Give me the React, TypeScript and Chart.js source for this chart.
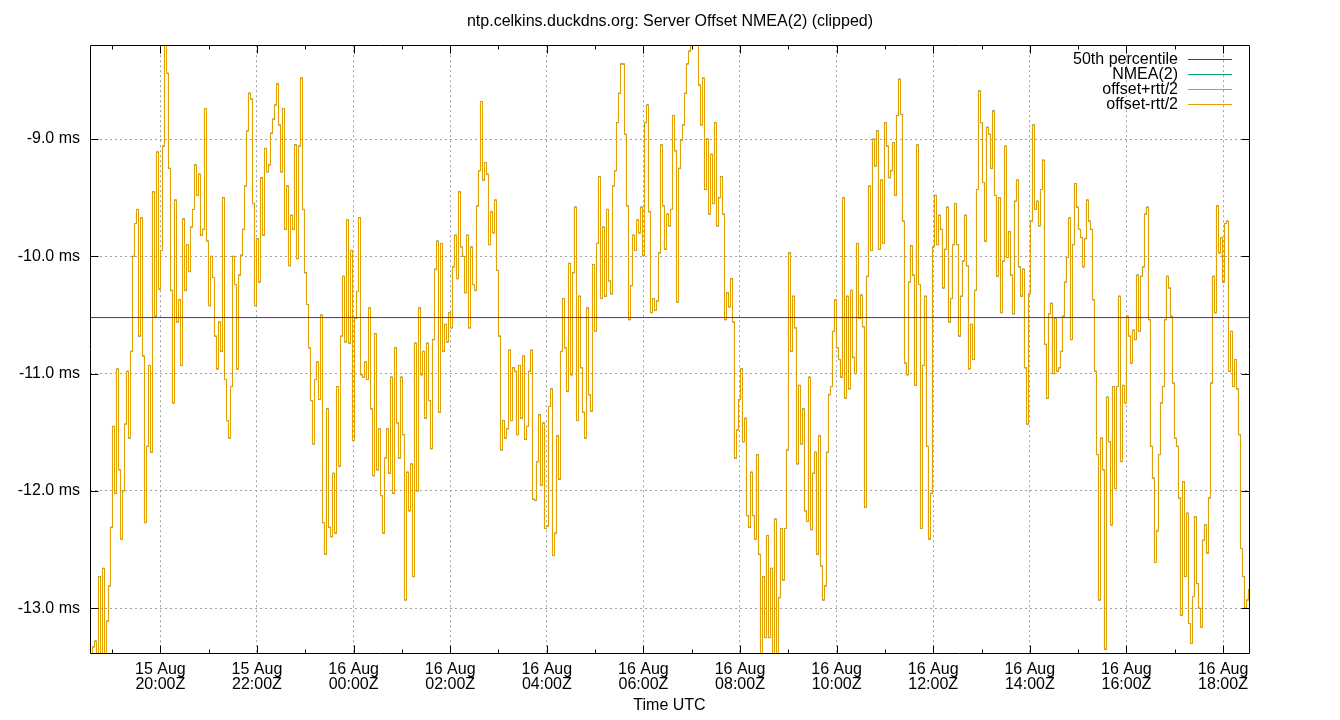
import React, { useEffect, useRef } from 'react';
import { Chart, registerables } from 'chart.js';

Chart.register(...registerables);

const FONT = '"Liberation Sans", Arial, sans-serif';

const chartTitle = 'ntp.celkins.duckdns.org: Server Offset NMEA(2) (clipped)';
const xAxisTitle = 'Time UTC';
const seriesLabels = ['50th percentile', 'NMEA(2)', 'offset+rtt/2', 'offset-rtt/2'];
const seriesColors = ['#9400d3', '#009e73', '#56b4e9', '#e69f00'];
const dayLabels = ['15 Aug', '16 Aug'];

// x is hours since 15 Aug 00:00Z
const xRange = [18.543, 42.538];
const yRange = [-13.39, -8.2];

const firstSampleHour = 18.574;
const sampleStepSec = 149.06;
const percentile50 = -10.522;

// offset in ms, one reading every sampleStepSec (refclock: rtt is 0, so offset+-rtt/2 == offset)
const offsetMs = [
  -13.45, -13.33, -13.28, -13.45, -12.73, -13.45, -12.66, -13.45, -13.11, -12.81,
  -12.31, -11.45, -12.02, -10.96, -11.82, -12.41, -12.00, -11.43, -10.98, -11.55,
  -10.81, -10.00, -9.72, -9.60, -10.68, -9.67, -10.85, -12.27, -11.62, -10.93,
  -11.67, -9.45, -10.51, -9.11, -10.28, -9.95, -9.06, -8.15, -8.44, -9.25,
  -10.29, -11.25, -9.52, -10.56, -10.37, -10.93, -9.68, -10.29, -9.90, -10.13,
  -9.75, -9.60, -9.22, -9.48, -9.30, -9.82, -9.77, -8.74, -9.87, -10.42,
  -10.00, -10.18, -10.68, -10.96, -10.56, -10.81, -9.50, -11.05, -11.40, -11.55,
  -11.11, -10.00, -10.24, -10.96, -10.16, -9.99, -9.77, -9.40, -8.93, -8.61,
  -8.66, -9.55, -10.42, -9.85, -10.22, -9.33, -9.82, -9.08, -9.28, -9.22,
  -8.95, -8.83, -8.71, -8.53, -8.88, -9.28, -8.74, -9.77, -9.40, -10.08,
  -9.65, -9.77, -9.05, -10.02, -9.06, -8.48, -9.60, -10.14, -10.41, -10.78,
  -11.23, -11.60, -11.05, -10.90, -11.22, -10.50, -12.27, -12.54, -11.30, -12.31,
  -12.39, -11.85, -12.36, -11.11, -11.79, -10.68, -10.17, -10.73, -9.69, -10.74,
  -9.95, -11.57, -10.53, -10.30, -9.67, -11.01, -11.03, -10.90, -11.05, -10.44,
  -11.30, -11.87, -10.66, -11.82, -11.47, -12.04, -12.36, -11.72, -11.47, -11.85,
  -11.03, -12.02, -10.78, -11.42, -11.72, -11.03, -11.52, -12.93, -11.84, -12.17,
  -11.77, -12.73, -10.74, -12.00, -10.44, -11.01, -10.81, -11.38, -10.74, -11.23,
  -11.64, -10.71, -10.11, -9.87, -11.33, -9.89, -10.81, -10.58, -10.73, -10.48,
  -10.61, -10.09, -9.82, -10.19, -9.45, -9.92, -10.00, -10.31, -9.82, -10.61,
  -9.92, -10.24, -10.29, -9.57, -9.27, -8.68, -9.35, -9.20, -9.30, -9.90,
  -9.62, -9.80, -9.52, -10.12, -10.68, -11.65, -11.40, -11.55, -11.47, -10.80,
  -11.40, -10.95, -10.98, -11.52, -10.93, -11.38, -10.85, -11.56, -11.45, -10.98,
  -10.80, -12.07, -12.08, -11.75, -11.35, -11.95, -11.42, -12.32, -12.30, -11.28,
  -11.13, -12.55, -12.36, -11.53, -11.90, -10.81, -10.36, -10.78, -11.15, -10.06,
  -11.01, -10.14, -9.58, -11.40, -10.34, -10.95, -11.33, -11.55, -10.44, -11.18,
  -11.32, -10.07, -10.64, -9.89, -9.32, -10.36, -9.75, -10.34, -9.60, -10.21,
  -10.32, -9.40, -9.27, -8.86, -8.61, -8.36, -8.36, -8.96, -9.57, -10.54,
  -10.25, -9.82, -9.95, -9.69, -9.80, -9.58, -9.99, -8.86, -8.71, -9.62,
  -10.48, -10.36, -10.46, -10.38, -9.97, -9.05, -9.57, -9.94, -9.64, -9.74,
  -9.60, -8.80, -9.10, -10.39, -9.25, -9.01, -8.88, -8.61, -8.36, -8.25,
  -8.10, -8.05, -8.10, -8.15, -8.54, -8.88, -8.48, -9.43, -9.00, -9.64,
  -9.13, -9.55, -8.86, -9.74, -9.50, -9.32, -9.64, -10.54, -10.31, -10.43,
  -10.19, -10.56, -11.72, -11.48, -11.22, -10.96, -11.58, -11.38, -12.21, -12.31,
  -11.84, -12.21, -12.41, -11.69, -12.54, -13.45, -12.73, -13.25, -12.38, -13.25,
  -12.66, -13.45, -12.24, -13.45, -12.91, -12.32, -12.76, -12.32, -11.65, -9.97,
  -10.81, -10.34, -10.61, -11.77, -11.10, -11.60, -11.30, -12.17, -12.26, -11.03,
  -12.33, -11.85, -11.67, -12.54, -11.53, -12.64, -12.93, -12.81, -11.67, -11.18,
  -11.11, -10.64, -10.37, -10.78, -10.88, -11.03, -9.50, -11.21, -10.34, -11.13,
  -10.29, -10.86, -11.00, -9.89, -10.53, -10.33, -10.60, -12.14, -10.17, -9.40,
  -9.95, -9.00, -9.23, -8.93, -9.94, -9.35, -9.89, -8.86, -9.06, -9.33,
  -9.27, -9.03, -9.48, -8.80, -8.49, -8.79, -9.70, -10.91, -11.01, -10.22,
  -9.91, -10.16, -11.10, -9.05, -10.24, -12.32, -10.93, -10.34, -11.62, -12.41,
  -12.02, -9.92, -9.48, -9.90, -9.65, -9.77, -10.27, -9.94, -9.58, -10.56,
  -10.36, -9.90, -9.55, -9.90, -10.68, -10.34, -10.04, -9.65, -10.08, -10.96,
  -10.58, -10.88, -10.29, -9.43, -8.59, -8.86, -9.37, -9.87, -8.90, -8.96,
  -9.25, -8.76, -9.48, -10.17, -9.50, -10.48, -10.04, -9.06, -10.01, -9.79,
  -10.16, -10.49, -9.53, -9.35, -10.09, -10.34, -10.11, -10.95, -11.43, -10.32,
  -9.70, -8.88, -9.60, -9.53, -9.74, -9.43, -9.18, -10.75, -11.21, -10.49,
  -10.40, -11.00, -10.53, -10.98, -10.95, -10.81, -10.51, -10.22, -10.01, -9.67,
  -10.71, -9.90, -9.38, -9.58, -9.77, -9.84, -10.09, -9.85, -9.52, -9.70,
  -9.77, -10.37, -10.98, -11.69, -12.93, -11.55, -11.82, -13.35, -11.20, -11.58,
  -12.29, -11.11, -11.98, -11.11, -10.34, -11.75, -11.10, -11.25, -10.51, -10.68,
  -10.91, -10.63, -10.71, -10.16, -10.64, -10.17, -10.09, -9.64, -9.58, -10.54,
  -11.62, -11.89, -12.61, -12.34, -11.69, -11.25, -11.11, -10.54, -10.17, -10.27,
  -10.51, -11.08, -11.55, -11.62, -12.06, -13.06, -11.92, -12.73, -12.19, -13.13,
  -13.30, -12.90, -12.22, -12.79, -13.00, -13.16, -12.42, -12.29, -12.53, -12.06,
  -11.08, -10.17, -10.48, -9.57, -9.97, -9.84, -10.22, -9.72, -9.70, -10.98,
  -10.64, -11.11, -10.88, -11.13, -11.52, -12.49, -12.73, -13.00, -12.93, -12.84,
];

// gnuplot look: full border, inward tics on all four sides, key in the top right corner
const gnuplotFrame = {
  id: 'gnuplotFrame',
  afterDraw(chart: any) {
    const { ctx, chartArea: a, scales } = chart;
    const L = Math.round(a.left) + 0.5;
    const R = Math.round(a.right) + 0.5;
    const T = Math.round(a.top) + 0.5;
    const B = Math.round(a.bottom) - 0.5;
    ctx.save();
    ctx.strokeStyle = '#000';
    ctx.lineWidth = 1;
    ctx.beginPath();
    ctx.rect(L, T, R - L, B - T);
    scales.x.ticks.forEach((t: any) => {
      const px = Math.round(scales.x.getPixelForValue(t.value)) + 0.5;
      const len = t.value % 2 === 0 ? 8 : 4;
      ctx.moveTo(px, B);
      ctx.lineTo(px, B - len);
      ctx.moveTo(px, T);
      ctx.lineTo(px, T + len);
    });
    scales.y.ticks.forEach((t: any) => {
      const py = Math.round(scales.y.getPixelForValue(t.value)) + 0.5;
      ctx.moveTo(L, py);
      ctx.lineTo(L + 8, py);
      ctx.moveTo(R, py);
      ctx.lineTo(R - 8, py);
    });
    ctx.stroke();

    ctx.font = `16px ${FONT}`;
    ctx.textAlign = 'right';
    ctx.textBaseline = 'middle';
    ctx.fillStyle = '#000';
    chart.data.datasets.forEach((ds: any, i: number) => {
      const y = Math.round(a.top + 14 + i * 15) + 0.5;
      ctx.fillText(ds.label, a.right - 71, y);
      ctx.strokeStyle = ds.borderColor;
      ctx.beginPath();
      ctx.moveTo(a.right - 61, y);
      ctx.lineTo(a.right - 17, y);
      ctx.stroke();
    });
    ctx.restore();
  },
};

const App: React.FC = () => {
  const canvasRef = useRef<HTMLCanvasElement>(null);
  const chartRef = useRef<Chart | null>(null);

  useEffect(() => {
    if (!canvasRef.current) return;
    if (chartRef.current) chartRef.current.destroy();

    const offsetPoints = offsetMs.map((y, i) => ({ x: firstSampleHour + (i * sampleStepSec) / 3600, y }));
    const medianPoints = xRange.map((x) => ({ x, y: percentile50 }));
    const seriesData = [medianPoints, offsetPoints, offsetPoints, offsetPoints];
    const drawOrder = [0, 3, 2, 1];

    chartRef.current = new Chart(canvasRef.current, {
      type: 'line',
      data: {
        datasets: seriesLabels.map((label, i) => ({
          label,
          data: seriesData[i],
          borderColor: seriesColors[i],
          backgroundColor: seriesColors[i],
          borderWidth: 1,
          pointRadius: 0,
          tension: 0,
          fill: false,
          stepped: i === 0 ? false : ('middle' as const),
          borderJoinStyle: 'miter' as const,
          order: drawOrder[i],
        })),
      },
      options: {
        responsive: false,
        animation: false,
        events: [],
        layout: { padding: 0 },
        plugins: {
          legend: { display: false },
          tooltip: { enabled: false },
          title: {
            display: true,
            text: chartTitle,
            color: '#000',
            font: { family: FONT, size: 16, weight: 'normal', lineHeight: 1.2 },
            padding: { top: 12, bottom: 14 },
          },
        },
        scales: {
          x: {
            type: 'linear',
            min: xRange[0],
            max: xRange[1],
            afterFit: (s: any) => {
              s.height = 66;
            },
            border: { display: false, dash: [2, 3] },
            grid: {
              color: (c: any) => (c.tick && c.tick.value % 2 === 0 ? '#a0a0a0' : 'rgba(0,0,0,0)'),
              lineWidth: 1,
              drawTicks: false,
            },
            ticks: {
              stepSize: 1,
              includeBounds: false,
              autoSkip: false,
              maxRotation: 0,
              minRotation: 0,
              padding: 8,
              color: '#000',
              font: { family: FONT, size: 16, lineHeight: '15px' },
              callback: (v: any) => {
                const h = Number(v);
                if (h % 2 !== 0) return '';
                const hh = String(h % 24).padStart(2, '0');
                return [dayLabels[h < 24 ? 0 : 1], `${hh}:00Z`];
              },
            },
            title: {
              display: true,
              text: xAxisTitle,
              color: '#000',
              font: { family: FONT, size: 16 },
              padding: { top: 0, bottom: 5 },
            },
          },
          y: {
            type: 'linear',
            min: yRange[0],
            max: yRange[1],
            afterFit: (s: any) => {
              s.width = 90;
            },
            border: { display: false, dash: [2, 3] },
            grid: { color: '#a0a0a0', lineWidth: 1, drawTicks: false },
            ticks: {
              stepSize: 1,
              includeBounds: false,
              padding: 10,
              color: '#000',
              font: { family: FONT, size: 16 },
              callback: (v: any) => `${Number(v).toFixed(1)} ms`,
            },
          },
          yRight: {
            type: 'linear',
            position: 'right',
            afterFit: (s: any) => {
              s.width = 91;
            },
            border: { display: false },
            grid: { display: false },
            ticks: { display: false },
          },
        },
      },
      plugins: [gnuplotFrame],
    });

    return () => {
      if (chartRef.current) {
        chartRef.current.destroy();
        chartRef.current = null;
      }
    };
  }, []);

  return (
    <div style={{ position: 'absolute', left: 0, top: 0, width: 1340, height: 720, background: '#fff' }}>
      <canvas ref={canvasRef} width={1340} height={720}></canvas>
    </div>
  );
};

export default App;
